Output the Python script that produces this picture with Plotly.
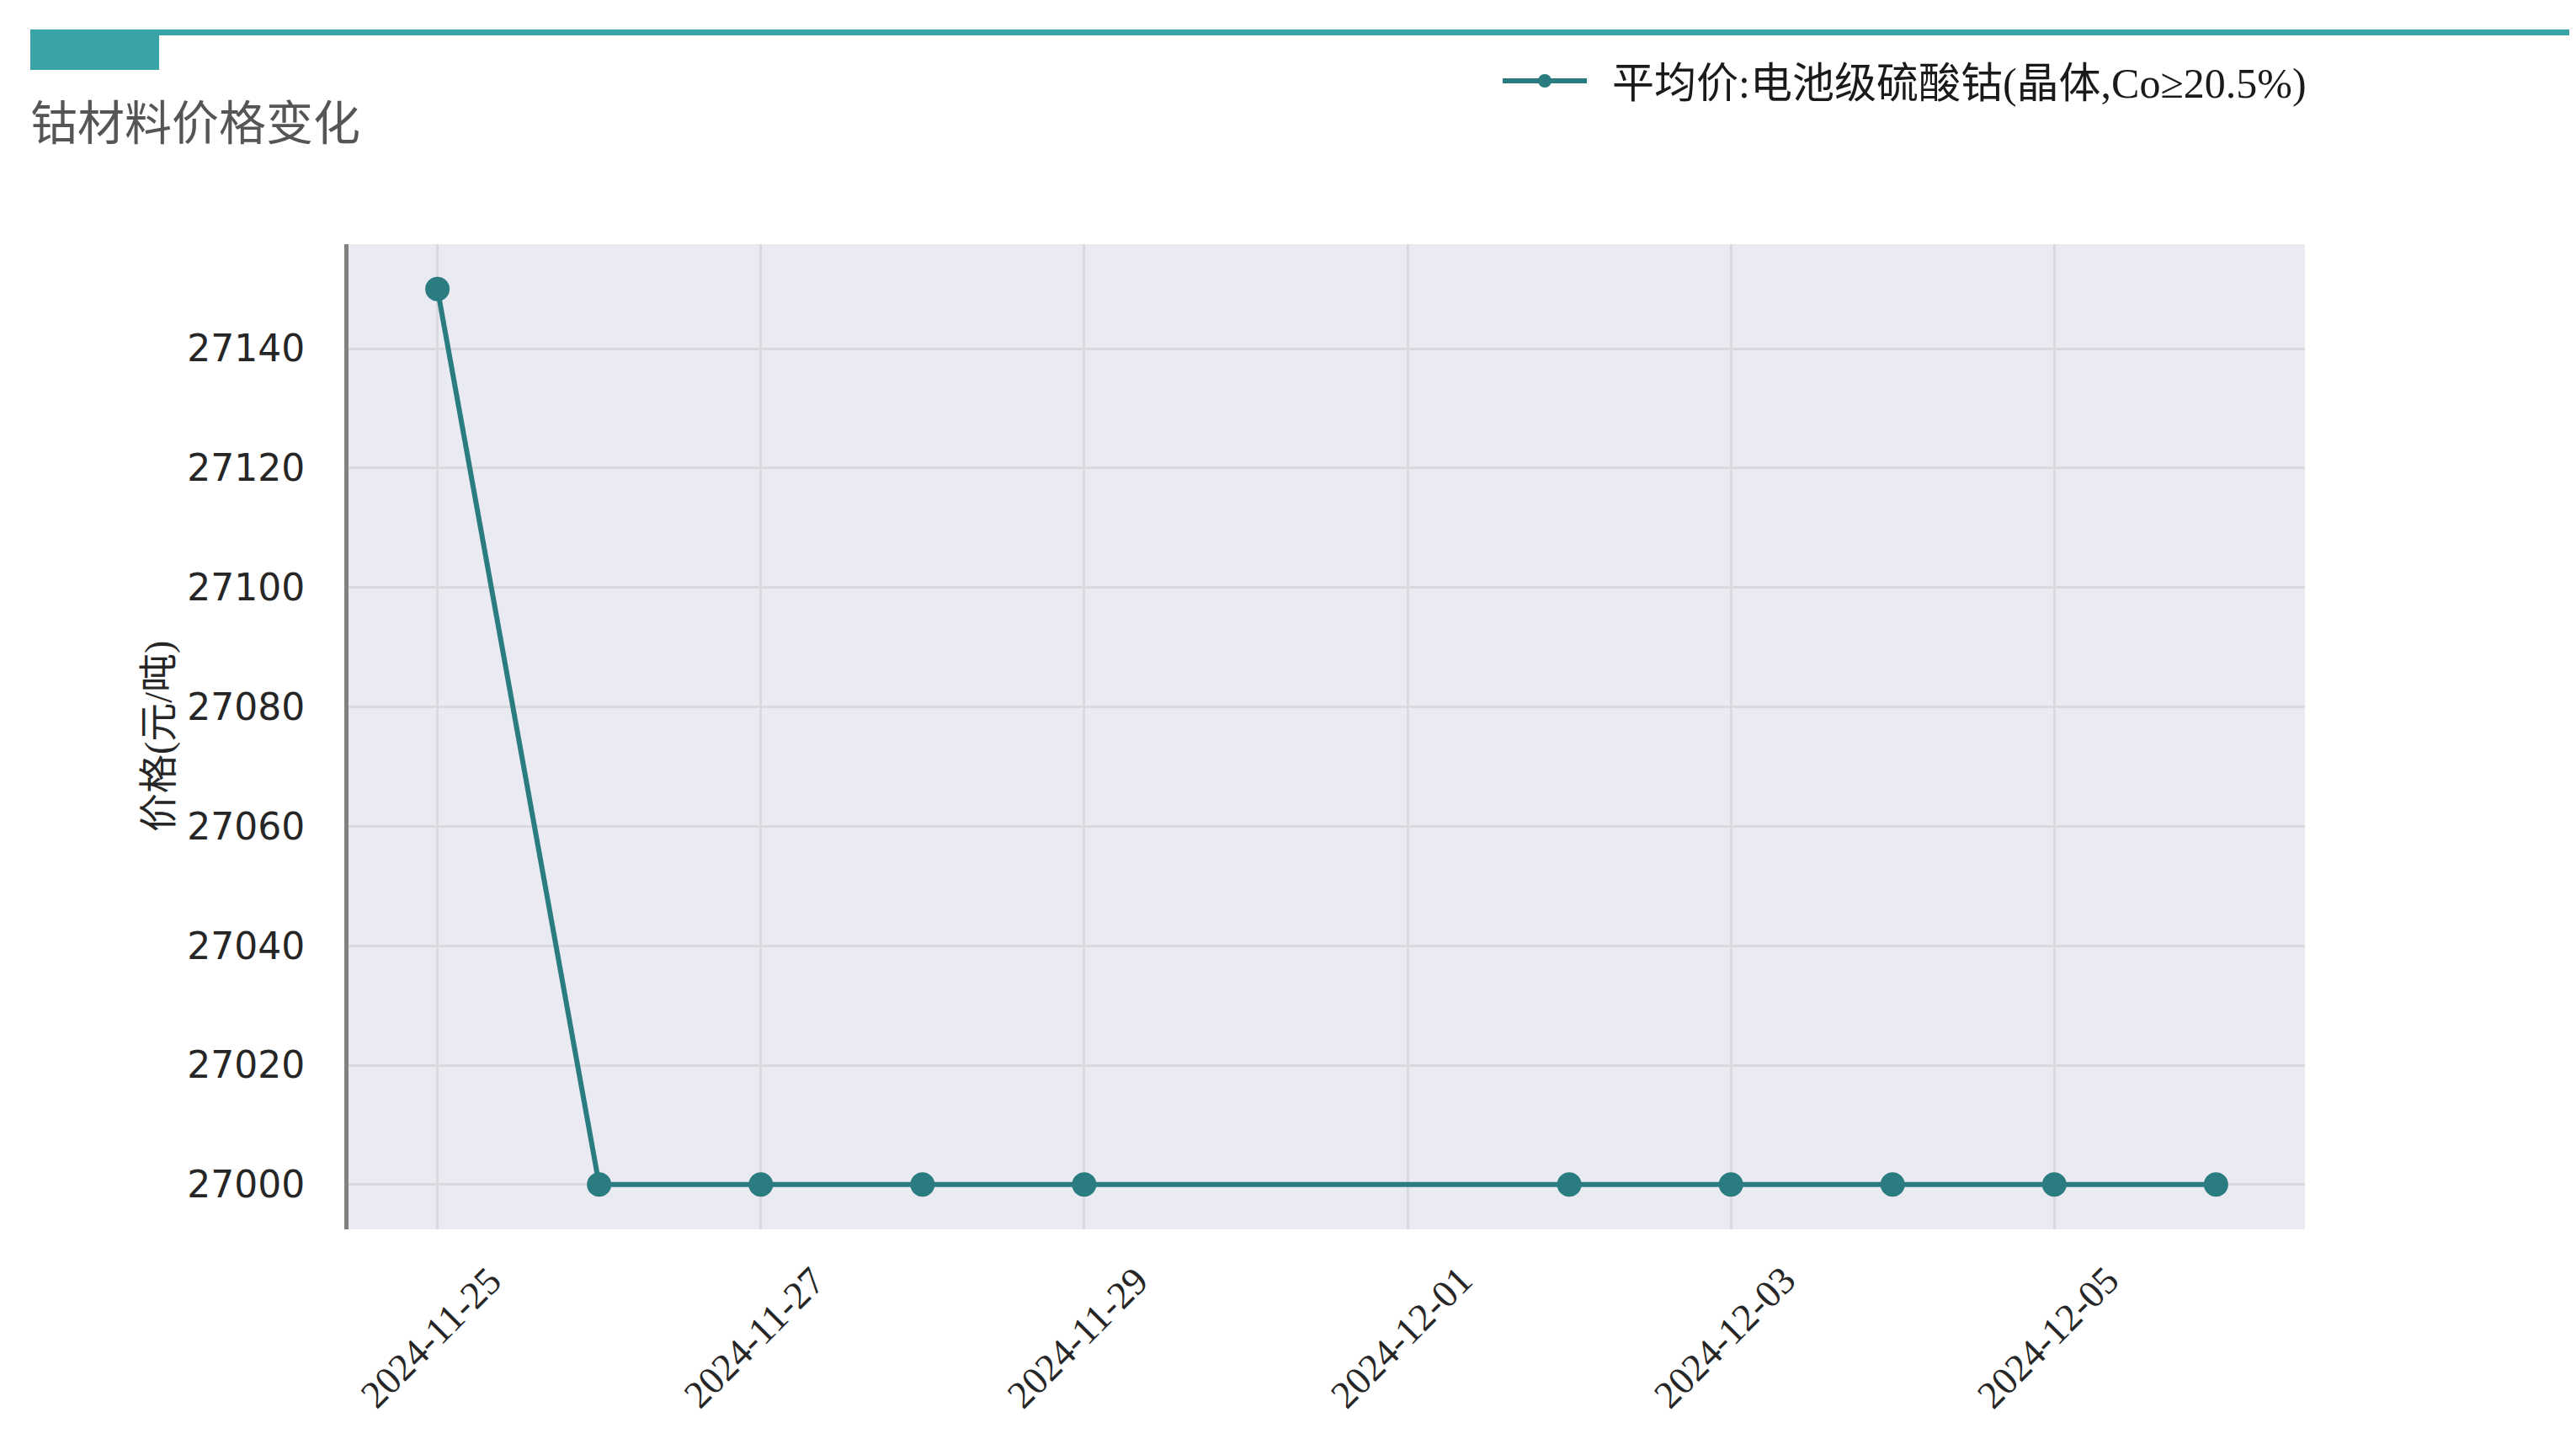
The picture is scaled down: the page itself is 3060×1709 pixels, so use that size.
import plotly.graph_objects as go

# --- data ---
dates = ["2024-11-25", "2024-11-26", "2024-11-27", "2024-11-28", "2024-11-29",
         "2024-12-02", "2024-12-03", "2024-12-04", "2024-12-05", "2024-12-06"]
prices = [27150, 27000, 27000, 27000, 27000, 27000, 27000, 27000, 27000, 27000]
tick_dates = ["2024-11-25", "2024-11-27", "2024-11-29", "2024-12-01",
              "2024-12-03", "2024-12-05"]
y_ticks = [27000, 27020, 27040, 27060, 27080, 27100, 27120, 27140]

series_name = "平均价:电池级硫酸钴(晶体,Co≥20.5%)"
chart_title = "钴材料价格变化"
y_title = "价格(元/吨)"

W, H = 3060, 1709
L, R, T, B = 406, 330, 282, 257
TEAL = "#2a7c80"
ACCENT = "#3aa3a6"
CJK = "Liberation Serif, Noto Sans CJK SC"

pw, ph = W - L - R, H - T - B


def px_x(v):
    return (v - L) / pw


def px_y(v):
    return 1 - (v - T) / ph


fig = go.Figure()
fig.add_trace(go.Scatter(
    x=dates, y=prices, name="&nbsp;&nbsp;" + series_name, mode="lines+markers",
    line=dict(color=TEAL, width=6),
    marker=dict(color=TEAL, size=29),
))

# x tick labels, centred on the tick like the source
annotations = []
for d in tick_dates:
    annotations.append(dict(
        x=d, xref="x", y=0, yref="paper", text=d, showarrow=False,
        textangle=-45, xanchor="center", yanchor="middle",
        xshift=-8, yshift=-128,
        font=dict(family="Liberation Serif", size=46, color="#262626"),
    ))
annotations.append(dict(
    x=px_x(180), xref="paper", y=0.5, yref="paper", text=y_title,
    showarrow=False, textangle=-90, xanchor="center", yanchor="middle",
    font=dict(family=CJK, size=46, color="#262626"),
))

# header decoration
shapes = [
    dict(type="rect", xref="paper", yref="paper", layer="above",
         x0=px_x(28), x1=px_x(3050), y0=px_y(34), y1=px_y(27),
         fillcolor=ACCENT, line=dict(width=0)),
    dict(type="rect", xref="paper", yref="paper", layer="above",
         x0=px_x(28), x1=px_x(181), y0=px_y(75), y1=px_y(27),
         fillcolor=ACCENT, line=dict(width=0)),
]

fig.update_layout(
    width=W, height=H,
    margin=dict(l=L, r=R, t=T, b=B, autoexpand=False),
    paper_bgcolor="white", plot_bgcolor="#eaeaf2",
    title=dict(text=chart_title, xref="container", x=28 / W, xanchor="left",
               yref="container", y=1 - 138 / H, yanchor="middle",
               font=dict(family=CJK, size=56, color="#555555")),
    showlegend=True,
    legend=dict(xref="container", yref="container", x=1772 / W, xanchor="left",
                y=1 - 88 / H, yanchor="middle", itemwidth=100,
                bgcolor="rgba(0,0,0,0)",
                font=dict(family=CJK, size=50, color="#1a1a1a")),
    xaxis=dict(type="date", range=["2024-11-24 10:48", "2024-12-06 13:12"],
               tickvals=tick_dates, showticklabels=False,
               showgrid=True, gridcolor="#d9d9de", gridwidth=3,
               zeroline=False, showline=False, automargin=False),
    yaxis=dict(range=[26992.5, 27157.5], tickvals=y_ticks, tickformat="d",
               showgrid=True, gridcolor="#d9d9de", gridwidth=3,
               zeroline=False, showline=True, linecolor="#808080", linewidth=5,
               ticks="", ticklabelstandoff=38, automargin=False,
               tickfont=dict(family="DejaVu Sans", size=44, color="#262626")),
    annotations=annotations,
    shapes=shapes,
)

fig.write_html("out.html")
